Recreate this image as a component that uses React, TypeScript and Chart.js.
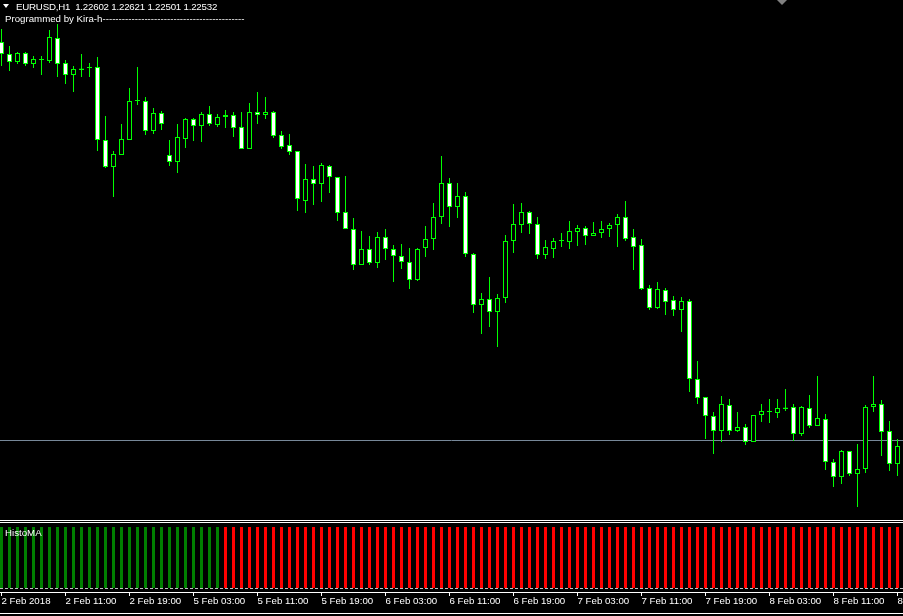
import React, { useEffect, useRef } from 'react';
import { Chart, registerables } from 'chart.js';

Chart.register(...registerables);

// ---- EURUSD H1 candles ----
const openP = [
  1.24790, 1.24730, 1.24690, 1.24735, 1.24680, 1.24700, 1.24695, 1.24810, 1.24685, 1.24625,
  1.24650, 1.24660, 1.24665, 1.24300, 1.24165, 1.24225, 1.24300, 1.24495, 1.24495, 1.24345,
  1.24435, 1.24225, 1.24190, 1.24305, 1.24405, 1.24370, 1.24430, 1.24375, 1.24415, 1.24425,
  1.24365, 1.24255, 1.24440, 1.24425, 1.24440, 1.24325, 1.24275, 1.24245, 1.23995, 1.24105,
  1.24080, 1.24170, 1.24115, 1.23940, 1.23855, 1.23675, 1.23755, 1.23685, 1.23815, 1.23755,
  1.23720, 1.23690, 1.23600, 1.23760, 1.23805, 1.23915, 1.24085, 1.23965, 1.24020, 1.23730,
  1.23475, 1.23505, 1.23440, 1.23510, 1.23795, 1.23875, 1.23940, 1.23880, 1.23725, 1.23755,
  1.23795, 1.23790, 1.23840, 1.23860, 1.23820, 1.23835, 1.23855, 1.23875, 1.23915, 1.23815,
  1.23775, 1.23560, 1.23460, 1.23550, 1.23500, 1.23450, 1.23495, 1.23105, 1.23015, 1.22920,
  1.22845, 1.22975, 1.22845, 1.22865, 1.22790, 1.22925, 1.22940, 1.22935, 1.22955, 1.22965,
  1.22830, 1.22960, 1.22870, 1.22905, 1.22690, 1.22615, 1.22745, 1.22630, 1.22655, 1.22965,
  1.22980, 1.22845, 1.22680,
];
const highP = [
  1.24855, 1.24770, 1.24740, 1.24740, 1.24720, 1.24720, 1.24850, 1.24880, 1.24700, 1.24670,
  1.24730, 1.24685, 1.24715, 1.24420, 1.24245, 1.24380, 1.24560, 1.24665, 1.24515, 1.24460,
  1.24445, 1.24300, 1.24380, 1.24410, 1.24410, 1.24440, 1.24470, 1.24430, 1.24450, 1.24440,
  1.24440, 1.24485, 1.24540, 1.24515, 1.24445, 1.24345, 1.24330, 1.24245, 1.24180, 1.24170,
  1.24185, 1.24175, 1.24115, 1.24120, 1.23910, 1.23845, 1.23820, 1.23840, 1.23855, 1.23775,
  1.23780, 1.23760, 1.23760, 1.23870, 1.23985, 1.24220, 1.24110, 1.24085, 1.24040, 1.23735,
  1.23535, 1.23615, 1.23530, 1.23825, 1.23980, 1.23985, 1.23945, 1.23915, 1.23800, 1.23810,
  1.23835, 1.23895, 1.23875, 1.23870, 1.23890, 1.23895, 1.23885, 1.23930, 1.23995, 1.23855,
  1.23805, 1.23575, 1.23590, 1.23560, 1.23520, 1.23515, 1.23505, 1.23195, 1.23015, 1.22940,
  1.23020, 1.23005, 1.22940, 1.22880, 1.22925, 1.22980, 1.23005, 1.23005, 1.23055, 1.22980,
  1.22970, 1.23025, 1.23120, 1.22930, 1.22705, 1.22750, 1.22745, 1.22780, 1.22975, 1.23120,
  1.23000, 1.22895, 1.22805,
];
const lowP = [
  1.24670, 1.24645, 1.24680, 1.24670, 1.24660, 1.24625, 1.24685, 1.24615, 1.24580, 1.24540,
  1.24615, 1.24615, 1.24245, 1.24160, 1.24015, 1.24225, 1.24300, 1.24475, 1.24325, 1.24330,
  1.24350, 1.24170, 1.24135, 1.24260, 1.24295, 1.24290, 1.24370, 1.24365, 1.24360, 1.24315,
  1.24255, 1.24255, 1.24380, 1.24405, 1.24310, 1.24255, 1.24225, 1.23945, 1.23935, 1.23975,
  1.23990, 1.24035, 1.23895, 1.23855, 1.23650, 1.23675, 1.23675, 1.23660, 1.23700, 1.23590,
  1.23655, 1.23555, 1.23595, 1.23715, 1.23750, 1.23880, 1.23865, 1.23910, 1.23715, 1.23435,
  1.23330, 1.23365, 1.23265, 1.23485, 1.23735, 1.23835, 1.23830, 1.23705, 1.23705, 1.23710,
  1.23765, 1.23755, 1.23770, 1.23775, 1.23820, 1.23810, 1.23815, 1.23765, 1.23795, 1.23650,
  1.23550, 1.23450, 1.23455, 1.23425, 1.23420, 1.23340, 1.23040, 1.22980, 1.22805, 1.22730,
  1.22790, 1.22825, 1.22840, 1.22775, 1.22790, 1.22890, 1.22885, 1.22910, 1.22945, 1.22795,
  1.22820, 1.22860, 1.22870, 1.22650, 1.22565, 1.22580, 1.22620, 1.22465, 1.22635, 1.22940,
  1.22720, 1.22645, 1.22620,
];
const closeP = [
  1.24730, 1.24690, 1.24735, 1.24680, 1.24705, 1.24705, 1.24815, 1.24680, 1.24625, 1.24655,
  1.24658, 1.24660, 1.24300, 1.24165, 1.24230, 1.24305, 1.24495, 1.24495, 1.24345, 1.24435,
  1.24380, 1.24190, 1.24315, 1.24405, 1.24370, 1.24430, 1.24380, 1.24415, 1.24425, 1.24360,
  1.24255, 1.24440, 1.24425, 1.24440, 1.24320, 1.24265, 1.24240, 1.24005, 1.24105, 1.24080,
  1.24175, 1.24115, 1.23935, 1.23855, 1.23675, 1.23755, 1.23685, 1.23815, 1.23755, 1.23720,
  1.23690, 1.23600, 1.23755, 1.23805, 1.23915, 1.24085, 1.23965, 1.24020, 1.23730, 1.23475,
  1.23505, 1.23440, 1.23510, 1.23795, 1.23880, 1.23940, 1.23880, 1.23725, 1.23765, 1.23795,
  1.23795, 1.23845, 1.23860, 1.23820, 1.23835, 1.23855, 1.23875, 1.23915, 1.23805, 1.23765,
  1.23555, 1.23460, 1.23555, 1.23490, 1.23450, 1.23495, 1.23105, 1.23010, 1.22920, 1.22845,
  1.22980, 1.22845, 1.22865, 1.22790, 1.22925, 1.22945, 1.22940, 1.22960, 1.22963, 1.22830,
  1.22965, 1.22870, 1.22910, 1.22690, 1.22615, 1.22745, 1.22630, 1.22655, 1.22965, 1.22980,
  1.22840, 1.22680, 1.22770,
];
const bidPrice = 1.227975;

// ---- HistoMA sub-window ----
const histoUp = [
  1, 1, 1, 1, 1, 1, 1, 1, 1, 1, 1, 1, 1, 1, 1, 1, 1, 1, 1, 1, 1, 1, 1, 1, 1, 1, 1, 1,
  0, 0, 0, 0, 0, 0, 0, 0, 0, 0, 0, 0, 0, 0, 0, 0, 0, 0, 0, 0, 0, 0, 0, 0, 0, 0, 0, 0,
  0, 0, 0, 0, 0, 0, 0, 0, 0, 0, 0, 0, 0, 0, 0, 0, 0, 0, 0, 0, 0, 0, 0, 0, 0, 0, 0, 0,
  0, 0, 0, 0, 0, 0, 0, 0, 0, 0, 0, 0, 0, 0, 0, 0, 0, 0, 0, 0, 0, 0, 0, 0, 0, 0, 0, 0,
  0,
];
const histoDown = [
  0, 0, 0, 0, 0, 0, 0, 0, 0, 0, 0, 0, 0, 0, 0, 0, 0, 0, 0, 0, 0, 0, 0, 0, 0, 0, 0, 0,
  1, 1, 1, 1, 1, 1, 1, 1, 1, 1, 1, 1, 1, 1, 1, 1, 1, 1, 1, 1, 1, 1, 1, 1, 1, 1, 1, 1,
  1, 1, 1, 1, 1, 1, 1, 1, 1, 1, 1, 1, 1, 1, 1, 1, 1, 1, 1, 1, 1, 1, 1, 1, 1, 1, 1, 1,
  1, 1, 1, 1, 1, 1, 1, 1, 1, 1, 1, 1, 1, 1, 1, 1, 1, 1, 1, 1, 1, 1, 1, 1, 1, 1, 1, 1,
  1,
];
const zeroLevel = 0;

// ---- time axis ----
const tickIndices = [0, 8, 16, 24, 32, 40, 48, 56, 64, 72, 80, 88, 96, 104, 112];
const tickLabels = [
  '2 Feb 2018', '2 Feb 11:00', '2 Feb 19:00', '5 Feb 03:00', '5 Feb 11:00',
  '5 Feb 19:00', '6 Feb 03:00', '6 Feb 11:00', '6 Feb 19:00', '7 Feb 03:00',
  '7 Feb 11:00', '7 Feb 19:00', '8 Feb 03:00', '8 Feb 11:00', '8 Feb 19:00',
];

const headerText = 'EURUSD,H1  1.22602 1.22621 1.22501 1.22532';
const creditText = 'Programmed by Kira-h--------------------------------------------';
const indicatorName = 'HistoMA';

const FONT = '"Liberation Sans", Arial, sans-serif';
const X_MIN = -0.1875;
const X_MAX = 112.6875;

const zeroLinePlugin = {
  id: 'zeroLine',
  afterDatasetsDraw(chart: any) {
    const y = Math.floor(chart.scales.y.getPixelForValue(zeroLevel)) + 0.5;
    const ctx = chart.ctx;
    ctx.save();
    ctx.strokeStyle = '#c0c0c0';
    ctx.lineWidth = 1;
    ctx.setLineDash([3, 2]);
    ctx.beginPath();
    ctx.moveTo(chart.chartArea.left, y);
    ctx.lineTo(chart.chartArea.right, y);
    ctx.stroke();
    ctx.restore();
  },
};

export default function App() {
  const mainRef = useRef<HTMLCanvasElement>(null);
  const histRef = useRef<HTMLCanvasElement>(null);

  useEffect(() => {
    document.body.style.margin = '0';
    document.body.style.background = '#000';
    const idx = openP.map((_, i) => i);
    const bodies = idx.map((i) => ({
      x: i,
      y: [Math.min(openP[i], closeP[i]), Math.max(openP[i], closeP[i])],
    }));
    const wicks = idx.map((i) => ({ x: i, y: [lowP[i], highP[i]] }));
    const bodyFill = idx.map((i) => (closeP[i] < openP[i] ? '#ffffff' : '#000000'));

    const common: any = {
      responsive: false,
      maintainAspectRatio: false,
      devicePixelRatio: 1,
      animation: false,
      events: [],
      layout: { padding: 0 },
      plugins: { legend: { display: false }, tooltip: { enabled: false }, title: { display: false } },
    };

    const main = new Chart(mainRef.current as HTMLCanvasElement, {
      type: 'bar',
      data: {
        datasets: [
          {
            type: 'line',
            data: [{ x: -1, y: bidPrice }, { x: 114, y: bidPrice }],
            borderColor: '#778899',
            borderWidth: 1,
            pointRadius: 0,
            order: 3,
          } as any,
          {
            type: 'bar',
            data: wicks,
            backgroundColor: '#00ff00',
            borderWidth: 0,
            grouped: false,
            barPercentage: 1,
            categoryPercentage: 0.125,
            maxBarThickness: 1,
            inflateAmount: 0,
            order: 2,
          } as any,
          {
            type: 'bar',
            data: bodies,
            backgroundColor: bodyFill,
            borderColor: '#00ff00',
            borderWidth: 1,
            borderSkipped: false,
            grouped: false,
            barPercentage: 1,
            categoryPercentage: 0.625,
            maxBarThickness: 5,
            minBarLength: 1,
            inflateAmount: 0,
            order: 1,
          } as any,
        ],
      },
      options: {
        ...common,
        scales: {
          x: {
            type: 'linear',
            display: false,
            min: X_MIN,
            max: X_MAX,
            bounds: 'data',
            offset: false,
            grid: { offset: false },
            afterBuildTicks: (s: any) => {
              s.ticks = tickIndices.map((v) => ({ value: v }));
            },
          },
          y: { type: 'linear', display: false, min: 1.224, max: 1.25, bounds: 'data' },
        },
      } as any,
    });

    const hist = new Chart(histRef.current as HTMLCanvasElement, {
      type: 'bar',
      data: {
        datasets: [
          {
            data: idx.map((i) => ({ x: i, y: histoUp[i] })),
            backgroundColor: '#008000',
            borderWidth: 0,
            grouped: false,
            barPercentage: 1,
            categoryPercentage: 0.375,
            maxBarThickness: 3,
            inflateAmount: 0,
          } as any,
          {
            data: idx.map((i) => ({ x: i, y: histoDown[i] })),
            backgroundColor: '#ff0000',
            borderWidth: 0,
            grouped: false,
            barPercentage: 1,
            categoryPercentage: 0.375,
            maxBarThickness: 3,
            inflateAmount: 0,
          } as any,
        ],
      },
      options: {
        ...common,
        scales: {
          x: {
            type: 'linear',
            position: 'bottom',
            min: X_MIN,
            max: X_MAX,
            bounds: 'data',
            offset: false,
            afterBuildTicks: (s: any) => {
              s.ticks = tickIndices.map((v) => ({ value: v }));
            },
            afterFit: (s: any) => {
              s.paddingLeft = 0;
              s.paddingRight = 0;
              s.height = 24;
            },
            grid: {
              offset: false,
              drawOnChartArea: false,
              drawTicks: true,
              tickLength: 4,
              color: '#ffffff',
              lineWidth: 1,
            },
            border: { display: true, color: '#ffffff', width: 1 },
            ticks: {
              autoSkip: false,
              maxRotation: 0,
              minRotation: 0,
              align: 'start',
              padding: 0,
              color: '#ffffff',
              font: { family: FONT, size: 9.7, lineHeight: 1 },
              callback: (_v: any, i: number) => tickLabels[i] ?? '',
            },
          },
          y: { type: 'linear', display: false, min: -4 / 61, max: 1 + 4 / 61, bounds: 'data' },
        },
      } as any,
      plugins: [zeroLinePlugin],
    });

    return () => {
      main.destroy();
      hist.destroy();
    };
  }, []);

  const txt: React.CSSProperties = {
    position: 'absolute',
    fontFamily: FONT,
    fontSize: '9.7px',
    lineHeight: '10px',
    whiteSpace: 'pre',
    color: '#ffffff',
  };
  const hline = (top: number, color = '#ffffff'): React.CSSProperties => ({
    position: 'absolute',
    left: 0,
    top,
    width: 903,
    height: 1,
    background: color,
  });

  return (
    <div style={{ position: 'relative', width: 903, height: 616, background: '#000', overflow: 'hidden' }}>
      <canvas ref={mainRef} width={903} height={520} style={{ position: 'absolute', left: 0, top: 0 }} />
      <canvas ref={histRef} width={903} height={93} style={{ position: 'absolute', left: 0, top: 523 }} />
      <div style={hline(520)} />
      <div style={hline(522)} />
      <div style={hline(613)} />
      {/* header */}
      <div
        style={{
          position: 'absolute',
          left: 3,
          top: 4,
          width: 0,
          height: 0,
          borderLeft: '3.5px solid transparent',
          borderRight: '3.5px solid transparent',
          borderTop: '4px solid #ffffff',
        }}
      />
      <div style={{ ...txt, left: 16, top: 2, letterSpacing: '-0.2px' }}>{headerText}</div>
      <div style={{ ...txt, left: 5, top: 14 }}>{creditText}</div>
      <div style={{ ...txt, left: 5, top: 528 }}>{indicatorName}</div>
      {/* chart shift marker */}
      <div
        style={{
          position: 'absolute',
          left: 777,
          top: 0,
          width: 0,
          height: 0,
          borderLeft: '5px solid transparent',
          borderRight: '5px solid transparent',
          borderTop: '5px solid #808080',
        }}
      />
    </div>
  );
}
